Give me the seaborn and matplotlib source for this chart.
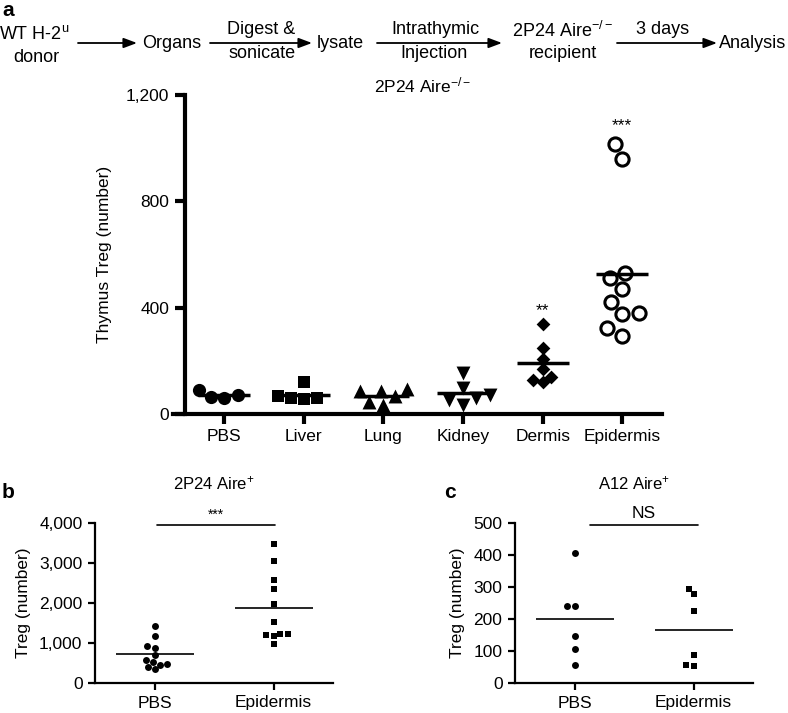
import numpy as np
import pandas as pd
import matplotlib.pyplot as plt
import seaborn as sns

sns.set_style('ticks', {'axes.edgecolor': 'black', 'text.color': 'black',
                        'xtick.color': 'black', 'ytick.color': 'black',
                        'axes.labelcolor': 'black'})
plt.rcParams['font.family'] = ['Liberation Sans', 'DejaVu Sans']
plt.rcParams['mathtext.fontset'] = 'custom'
plt.rcParams['mathtext.rm'] = 'Liberation Sans'
plt.rcParams['mathtext.it'] = 'Liberation Sans:italic'
plt.rcParams['mathtext.bf'] = 'Liberation Sans:bold'

# Panel a: thymus Treg after intrathymic injection of organ lysates
organs = ['PBS', 'Liver', 'Lung', 'Kidney', 'Dermis', 'Epidermis']
pbs_a = [71, 60, 90, 64]
liver_a = [120, 60, 56, 68, 60]
lung_a = [86, 86, 94, 68, 34, 45]
kidney_a = [154, 98, 71, 60, 34, 53]
dermis_a = [340, 248, 206, 169, 139, 120, 128]
epidermis_a = [1016, 960, 529, 510, 469, 420, 379, 375, 323, 293]
yticks_a = [0, 400, 800, 1200]
yticklabels_a = ['0', '400', '800', '1,200']
stars_a = ['', '', '', '', '**', '***']
stars_y_a = [0, 0, 0, 0, 390, 1084]

# Panel b: 2P24 Aire+
groups = ['PBS', 'Epidermis']
pbs_b = [1417, 1175, 883, 917, 708, 583, 525, 458, 342, 400, 483]
epi_b = [3483, 3050, 2583, 2358, 1983, 1525, 1192, 1217, 1217, 1167, 967]
yticks_b = [0, 1000, 2000, 3000, 4000]
yticklabels_b = ['0', '1,000', '2,000', '3,000', '4,000']

# Panel c: A12 Aire+
pbs_c = [406, 242, 242, 146, 106, 55]
epi_c = [294, 278, 224, 87, 52, 56]
yticks_c = [0, 100, 200, 300, 400, 500]

df_a = pd.DataFrame({
    'organ': np.repeat(organs, [len(v) for v in [pbs_a, liver_a, lung_a, kidney_a, dermis_a, epidermis_a]]),
    'treg': pbs_a + liver_a + lung_a + kidney_a + dermis_a + epidermis_a,
})
df_b = pd.DataFrame({'group': ['PBS'] * len(pbs_b) + ['Epidermis'] * len(epi_b), 'treg': pbs_b + epi_b})
df_c = pd.DataFrame({'group': ['PBS'] * len(pbs_c) + ['Epidermis'] * len(epi_c), 'treg': pbs_c + epi_c})

W, H = 788, 713
fig = plt.figure(figsize=(W / 100, H / 100), dpi=100)


def box(x0, y0, x1, y1):
    # pixel box (image coords, y down) -> figure fraction
    return [x0 / W, 1 - y1 / H, (x1 - x0) / W, (y1 - y0) / H]


# ---------- panel a ----------
ax = fig.add_axes(box(173, 95, 662, 414))
styles = {
    'PBS': dict(marker='o', size=9.5, color='black', edgecolor='black', linewidth=0),
    'Liver': dict(marker='s', size=9, color='black', edgecolor='black', linewidth=0),
    'Lung': dict(marker='^', size=10, color='black', edgecolor='black', linewidth=0),
    'Kidney': dict(marker='v', size=10, color='black', edgecolor='black', linewidth=0),
    'Dermis': dict(marker='D', size=7, color='black', edgecolor='black', linewidth=0),
    'Epidermis': dict(marker='o', size=9.5, color='white', edgecolor='black', linewidth=2.2),
}
for org in organs:
    sub = df_a[df_a['organ'] == org]
    sns.swarmplot(data=sub, x='organ', y='treg', order=organs, ax=ax, zorder=2, **styles[org])
sns.pointplot(data=df_a, x='organ', y='treg', order=organs, estimator='mean', errorbar=None,
              color='black', markers='_', linestyles='none', markersize=37,
              markeredgewidth=2.5, ax=ax, zorder=3)
for i, s in enumerate(stars_a):
    if s:
        ax.text(i, stars_y_a[i], s, ha='center', va='center', fontsize=12.5)

ax.set_xlim(-0.645, 5.5)
ax.set_ylim(0, 1200)
ax.set_yticks(yticks_a)
ax.set_yticklabels(yticklabels_a)
ax.spines['left'].set_position(('data', -0.5))
for sp in ['left', 'bottom']:
    ax.spines[sp].set_linewidth(3)
ax.spines['top'].set_visible(False)
ax.spines['right'].set_visible(False)
ax.tick_params(width=3, length=7, labelsize=12.5, color='black', labelcolor='black', pad=4)
ax.set_xlabel('')
ax.set_ylabel('Thymus Treg (number)', fontsize=12.5, labelpad=10)
ax.set_title(r'2P24 Aire$^{-/-}$', fontsize=12.5, pad=2, x=0.51)


# ---------- panels b and c ----------
def small_panel(rect, data, yticks, yticklabels, title, sig, bar_x0, bar_x1, sig_y):
    a = fig.add_axes(rect)
    sns.swarmplot(data=data[data['group'] == 'PBS'], x='group', y='treg', order=groups, ax=a,
                  marker='o', size=5, color='black', linewidth=0)
    sns.swarmplot(data=data[data['group'] == 'Epidermis'], x='group', y='treg', order=groups, ax=a,
                  marker='s', size=5, color='black', linewidth=0)
    sns.pointplot(data=data, x='group', y='treg', order=groups, estimator='mean', errorbar=None,
                  color='black', markers='_', linestyles='none', markersize=56,
                  markeredgewidth=1.2, ax=a, zorder=3)
    a.set_xlim(-0.5, 1.5)
    a.set_ylim(0, yticks[-1])
    a.set_yticks(yticks)
    a.set_yticklabels(yticklabels)
    sns.despine(ax=a)
    for sp in ['left', 'bottom']:
        a.spines[sp].set_linewidth(1.6)
    a.tick_params(width=1.6, length=5, labelsize=12.5, color='black', labelcolor='black', pad=4)
    a.set_xlabel('')
    a.set_ylabel('Treg (number)', fontsize=12.5, labelpad=6)
    a.plot([bar_x0, bar_x1], [yticks[-1] * 0.99] * 2, color='black', lw=1.2, clip_on=False)
    a.text((bar_x0 + bar_x1) / 2, sig_y, sig, ha='center', va='center',
           fontsize=12.5 if sig == 'NS' else 10)
    a.set_title(title, fontsize=12, pad=24)
    return a


small_panel(box(95, 523, 333, 683), df_b, yticks_b, yticklabels_b,
            r'2P24 Aire$^{+}$', '***', 0.02, 1.01, 4200)
small_panel(box(515, 523, 753, 683), df_c, yticks_c, [str(t) for t in yticks_c],
            r'A12 Aire$^{+}$', 'NS', 0.13, 1.04, 530)

# ---------- flow diagram on top ----------
ov = fig.add_axes([0, 0, 1, 1])
ov.set_xlim(0, W)
ov.set_ylim(H, 0)
ov.axis('off')
fs = 13
ov.text(8, 10, 'a', fontsize=15, fontweight='bold', ha='center', va='center')
ov.text(8, 492, 'b', fontsize=15, fontweight='bold', ha='center', va='center')
ov.text(450, 492, 'c', fontsize=15, fontweight='bold', ha='center', va='center')
ov.text(34, 34, r'WT H-2$^{\mathrm{u}}$', fontsize=fs, ha='center', va='center')
ov.text(36, 58, 'donor', fontsize=fs, ha='center', va='center')
ov.text(172, 43, 'Organs', fontsize=fs, ha='center', va='center')
ov.text(261, 30, 'Digest &', fontsize=fs, ha='center', va='center')
ov.text(262, 53, 'sonicate', fontsize=fs, ha='center', va='center')
ov.text(340, 43, 'lysate', fontsize=fs, ha='center', va='center')
ov.text(435, 29, 'Intrathymic', fontsize=fs, ha='center', va='center')
ov.text(434, 54, 'Injection', fontsize=fs, ha='center', va='center')
ov.text(562, 31, r'2P24 Aire$^{-/-}$', fontsize=fs, ha='center', va='center')
ov.text(563, 53, 'recipient', fontsize=fs, ha='center', va='center')
ov.text(663, 29, '3 days', fontsize=fs, ha='center', va='center')
ov.text(753, 43, 'Analysis', fontsize=fs, ha='center', va='center')
for x0, x1 in [(78, 137), (210, 312), (377, 502), (617, 717)]:
    ov.annotate('', xy=(x1, 43), xytext=(x0, 43),
                arrowprops=dict(arrowstyle='-|>,head_length=0.8,head_width=0.3', color='black',
                                lw=1.3, shrinkA=0, shrinkB=0))

fig.savefig('out.png', dpi=100)
